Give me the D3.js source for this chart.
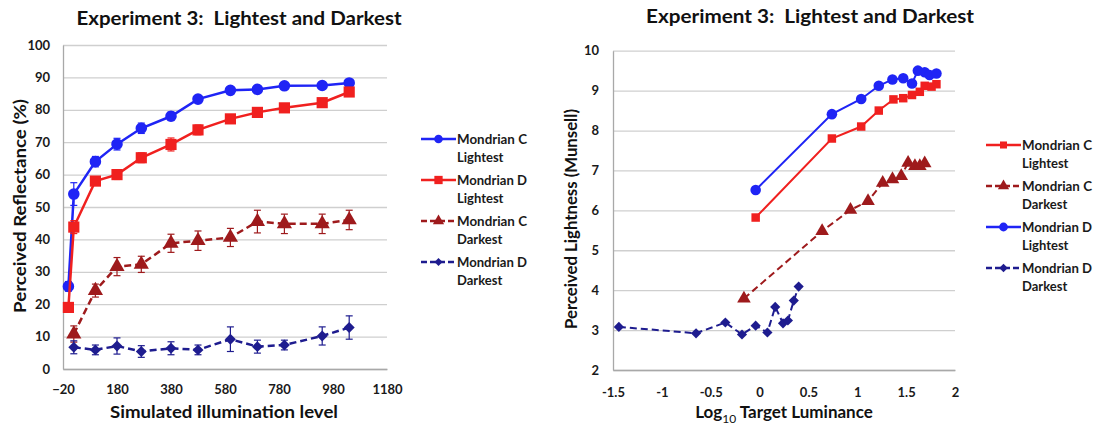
<!DOCTYPE html>
<html>
<head>
<meta charset="utf-8">
<script src="https://cdn.jsdelivr.net/npm/d3@7"></script>
<style>
  html, body { margin: 0; padding: 0; background: #fff; }
  svg { display: block; font-family: Lato, "Noto Sans", sans-serif; }
</style>
</head>
<body>
<svg id="chart" width="1095" height="428"></svg>
<script>
// ---------- Left chart data ----------
const leftX = [0, 20, 100, 180, 270, 380, 480, 600, 700, 800, 940, 1040];
const leftXDark = [20, 100, 180, 270, 380, 480, 600, 700, 800, 940, 1040];
const leftCLightest = [25.5, 54, 64, 69.4, 74.3, 78, 83.3, 86, 86.3, 87.4, 87.5, 88.3];
const leftCLightestErr = [1.5, 3.5, 1.6, 1.8, 1.6, 1.3, 1.1, 1, 1, 1, 1, 1];
const leftDLightest = [19, 43.8, 58, 60, 65.2, 69.3, 73.8, 77.2, 79.2, 80.6, 82.2, 85.5];
const leftDLightestErr = [1.2, 2, 1.2, 1.5, 1.5, 2, 1.5, 1.2, 1, 1, 1, 1];
const leftCDarkest = [10.8, 24.2, 31.6, 32.3, 38.8, 39.6, 40.6, 45.5, 44.8, 44.8, 46];
const leftCDarkestErr = [2.5, 2, 2.8, 2.5, 2.8, 3, 2.8, 3.5, 3, 3, 3];
const leftDDarkest = [6.7, 5.9, 7.1, 5.4, 6.4, 5.9, 9.2, 6.9, 7.4, 10.2, 12.8];
const leftDDarkestErr = [2, 1.5, 2.5, 1.8, 2, 1.5, 3.8, 2, 1.5, 2.8, 3.6];
const leftXTicks = [-20, 180, 380, 580, 780, 980, 1180];
const leftYTicks = [0, 10, 20, 30, 40, 50, 60, 70, 80, 90, 100];

// ---------- Right chart data ----------
const rightCLightestX = [-0.04, 0.74, 1.04, 1.22, 1.37, 1.47, 1.56, 1.64, 1.69, 1.76, 1.81];
const rightCLightest = [5.82, 7.80, 8.10, 8.50, 8.78, 8.81, 8.89, 8.97, 9.12, 9.10, 9.16];
const rightCDarkestX = [-0.16, 0.64, 0.93, 1.11, 1.26, 1.36, 1.45, 1.52, 1.59, 1.64, 1.69];
const rightCDarkest = [3.79, 5.48, 6.01, 6.23, 6.69, 6.78, 6.86, 7.19, 7.11, 7.11, 7.18];
const rightDLightestX = [-0.04, 0.74, 1.04, 1.22, 1.36, 1.47, 1.56, 1.62, 1.69, 1.74, 1.81];
const rightDLightest = [6.51, 8.41, 8.79, 9.12, 9.28, 9.31, 9.18, 9.50, 9.46, 9.39, 9.43];
const rightDDarkestX = [-1.44, -0.65, -0.35, -0.18, -0.04, 0.08, 0.16, 0.24, 0.29, 0.35, 0.40];
const rightDDarkest = [3.08, 2.92, 3.19, 2.89, 3.11, 2.94, 3.58, 3.17, 3.24, 3.74, 4.09];
const rightXTicks = [-1.5, -1, -0.5, 0, 0.5, 1, 1.5, 2];
const rightYTicks = [2, 3, 4, 5, 6, 7, 8, 9, 10];

const titleText = "Experiment 3:  Lightest and Darkest";

const COL = {
  blue: "#1f24f5",
  red: "#f0201f",
  darkred: "#9e1a1c",
  navy: "#1e1c8f"
};

const svg = d3.select("#chart");

function zip(xs, ys, es) {
  return xs.map((x, i) => ({ x: x, y: ys[i], e: es ? es[i] : null }));
}

// marker: diamonds drawn as rotated squares
function markerPath(s, scale) {
  if (s.symbol === "diamond") return d3.symbol().type(d3.symbolSquare).size(s.size * scale)();
  return d3.symbol().type(s.symbol).size(s.size * scale)();
}
function markerRot(s) { return s.symbol === "diamond" ? " rotate(45)" : ""; }

function drawPanel(cfg) {
  const g = svg.append("g");
  const x = d3.scaleLinear().domain(cfg.xDomain).range(cfg.xRange);
  const y = d3.scaleLinear().domain(cfg.yDomain).range(cfg.yRange);

  // gridlines
  g.append("g")
    .attr("transform", `translate(${cfg.xRange[0]},0)`)
    .call(d3.axisLeft(y).tickValues(cfg.yTicks).tickSize(-(cfg.xRange[1] - cfg.xRange[0])).tickFormat(""))
    .call(a => a.select(".domain").remove())
    .call(a => a.selectAll("line").attr("stroke", "#cfcfcf").attr("stroke-width", 1.3));

  // y axis
  g.append("g")
    .attr("transform", `translate(${cfg.xRange[0]},0)`)
    .call(d3.axisLeft(y).tickValues(cfg.yTicks).tickSize(0).tickPadding(cfg.yPad).tickFormat(d3.format("d")))
    .call(a => a.select(".domain").attr("stroke", "#a8a8a8").attr("stroke-width", 1.3))
    .call(a => a.selectAll("text").attr("font-family", "Lato, sans-serif").attr("font-size", 13)
      .attr("font-weight", "bold").attr("fill", "#1a1a1a"));

  // x axis
  g.append("g")
    .attr("transform", `translate(0,${cfg.yRange[0]})`)
    .call(d3.axisBottom(x).tickValues(cfg.xTicks).tickSize(0).tickPadding(cfg.xPad).tickFormat(cfg.xFormat))
    .call(a => a.select(".domain").attr("stroke", "#a8a8a8").attr("stroke-width", 1.3))
    .call(a => a.selectAll("text").attr("font-family", "Lato, sans-serif").attr("font-size", 13)
      .attr("font-weight", "bold").attr("fill", "#1a1a1a"));

  // series
  cfg.series.forEach(s => {
    const line = d3.line().x(d => x(d.x)).y(d => y(d.y));
    if (s.data[0].e !== null) {
      const eb = g.append("g").attr("stroke", s.color).attr("stroke-width", 1.2);
      s.data.forEach(d => {
        const cx = x(d.x), y1 = y(d.y + d.e), y2 = y(d.y - d.e);
        eb.append("line").attr("x1", cx).attr("x2", cx).attr("y1", y1).attr("y2", y2);
        eb.append("line").attr("x1", cx - 3.5).attr("x2", cx + 3.5).attr("y1", y1).attr("y2", y1);
        eb.append("line").attr("x1", cx - 3.5).attr("x2", cx + 3.5).attr("y1", y2).attr("y2", y2);
      });
    }
    g.append("path").datum(s.data)
      .attr("d", line)
      .attr("fill", "none")
      .attr("stroke", s.color)
      .attr("stroke-width", cfg.lineWidth)
      .attr("stroke-dasharray", s.dashed ? "7,4" : null);
    g.append("g").selectAll("path").data(s.data).join("path")
      .attr("transform", d => `translate(${x(d.x)},${y(d.y)})` + markerRot(s))
      .attr("d", markerPath(s, cfg.markerScale))
      .attr("fill", s.color);
  });

  // title
  svg.append("text")
    .attr("x", cfg.titleX).attr("y", cfg.titleY)
    .attr("text-anchor", "middle")
    .attr("xml:space", "preserve")
    .style("white-space", "pre")
    .attr("font-family", "Lato, sans-serif").attr("font-weight", "bold").attr("font-size", 18.5)
    .attr("fill", "#111")
    .attr("textLength", cfg.titleLen).attr("lengthAdjust", "spacingAndGlyphs")
    .text(titleText);

  // y axis title
  svg.append("text")
    .attr("transform", `translate(${cfg.yTitleX},${cfg.yTitleY}) rotate(-90)`)
    .attr("text-anchor", "middle")
    .attr("font-family", "Lato, sans-serif").attr("font-weight", "bold").attr("font-size", 17)
    .attr("fill", "#111")
    .attr("textLength", cfg.yTitleLen).attr("lengthAdjust", "spacingAndGlyphs")
    .text(cfg.yTitle);

  // x axis title
  const xt = svg.append("text")
    .attr("x", cfg.xTitleX).attr("y", cfg.xTitleY)
    .attr("text-anchor", "middle")
    .attr("font-family", "Lato, sans-serif").attr("font-weight", "bold").attr("font-size", 17)
    .attr("fill", "#111");
  cfg.xTitle(xt);

  // legend
  const lg = svg.append("g");
  cfg.legend.forEach((it, i) => {
    const s = cfg.series.find(d => d.key === it);
    const yy = cfg.legendY + i * cfg.legendStep;
    lg.append("line")
      .attr("x1", cfg.legendX).attr("x2", cfg.legendX + 35)
      .attr("y1", yy).attr("y2", yy)
      .attr("stroke", s.color).attr("stroke-width", 2.5)
      .attr("stroke-dasharray", s.dashed ? "6,3" : null);
    lg.append("path")
      .attr("transform", `translate(${cfg.legendX + 17.5},${yy})` + markerRot(s))
      .attr("d", markerPath(s, 0.55))
      .attr("fill", s.color);
    const t = lg.append("text")
      .attr("x", cfg.legendX + 36).attr("y", yy + 5)
      .attr("font-family", "Lato, sans-serif").attr("font-size", 13).attr("font-weight", "bold")
      .attr("fill", "#1a1a1a");
    t.append("tspan").attr("x", cfg.legendX + 36).attr("textLength", 70).attr("lengthAdjust", "spacingAndGlyphs").text(s.name1);
    t.append("tspan").attr("x", cfg.legendX + 36).attr("dy", 17.5).text(s.name2);
  });
}

// Left panel
drawPanel({
  xDomain: [-20, 1180], xRange: [63, 387],
  yDomain: [0, 100], yRange: [369, 45],
  xTicks: leftXTicks, yTicks: leftYTicks,
  xFormat: d3.format("d"),
  xPad: 16, yPad: 13,
  lineWidth: 2.5, markerScale: 1,
  series: [
    { key: "CL", name1: "Mondrian C", name2: "Lightest", color: COL.blue, symbol: d3.symbolCircle, size: 105, dashed: false,
      data: zip(leftX, leftCLightest, leftCLightestErr) },
    { key: "DL", name1: "Mondrian D", name2: "Lightest", color: COL.red, symbol: d3.symbolSquare, size: 125, dashed: false,
      data: zip(leftX, leftDLightest, leftDLightestErr) },
    { key: "CD", name1: "Mondrian C", name2: "Darkest", color: COL.darkred, symbol: d3.symbolTriangle, size: 100, dashed: true,
      data: zip(leftXDark, leftCDarkest, leftCDarkestErr) },
    { key: "DD", name1: "Mondrian D", name2: "Darkest", color: COL.navy, symbol: "diamond", size: 60, dashed: true,
      data: zip(leftXDark, leftDDarkest, leftDDarkestErr) }
  ],
  legend: ["CL", "DL", "CD", "DD"],
  legendX: 421, legendY: 139, legendStep: 41,
  titleX: 239, titleY: 25, titleLen: 325,
  yTitle: "Perceived Reflectance (%)", yTitleX: 26, yTitleY: 206, yTitleLen: 214,
  xTitleX: 224, xTitleY: 418,
  xTitle: t => t.attr("textLength", 228).attr("lengthAdjust", "spacingAndGlyphs").text("Simulated illumination level")
});

// Right panel
drawPanel({
  xDomain: [-1.5, 2], xRange: [613, 955],
  yDomain: [2, 10], yRange: [370, 50.7],
  xTicks: rightXTicks, yTicks: rightYTicks,
  xFormat: d => String(d),
  xPad: 18, yPad: 14,
  lineWidth: 2, markerScale: 0.8,
  series: [
    { key: "CL", name1: "Mondrian C", name2: "Lightest", color: COL.red, symbol: d3.symbolSquare, size: 90, dashed: false,
      data: zip(rightCLightestX, rightCLightest, null) },
    { key: "CD", name1: "Mondrian C", name2: "Darkest", color: COL.darkred, symbol: d3.symbolTriangle, size: 100, dashed: true,
      data: zip(rightCDarkestX, rightCDarkest, null) },
    { key: "DL", name1: "Mondrian D", name2: "Lightest", color: COL.blue, symbol: d3.symbolCircle, size: 110, dashed: false,
      data: zip(rightDLightestX, rightDLightest, null) },
    { key: "DD", name1: "Mondrian D", name2: "Darkest", color: COL.navy, symbol: "diamond", size: 65, dashed: true,
      data: zip(rightDDarkestX, rightDDarkest, null) }
  ],
  legend: ["CL", "CD", "DL", "DD"],
  legendX: 986, legendY: 145, legendStep: 41,
  titleX: 810, titleY: 23, titleLen: 328,
  yTitle: "Perceived Lightness (Munsell)", yTitleX: 577, yTitleY: 219, yTitleLen: 220,
  xTitleX: 784, xTitleY: 418,
  xTitle: t => {
    t.append("tspan").text("Log");
    t.append("tspan").attr("font-size", 12).attr("font-weight", "normal").attr("dy", 5).text("10");
    t.append("tspan").attr("dy", -5).text(" Target Luminance");
  }
});
</script>
</body>
</html>
